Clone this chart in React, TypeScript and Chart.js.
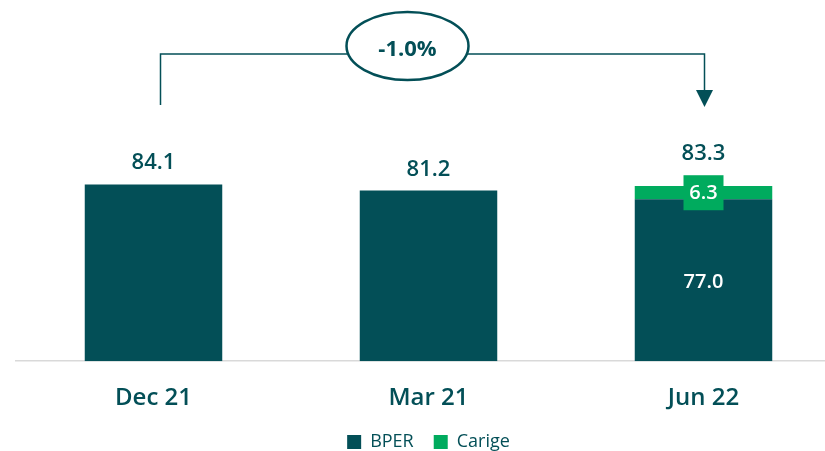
import { useEffect, useRef } from "react";
import { Chart, registerables } from "chart.js";

Chart.register(...registerables);

const categories = ["Dec 21", "Mar 21", "Jun 22"];
const bperValues = [84.1, 81.2, 77.0];
const carigeValues: (number | null)[] = [null, null, 6.3];
const totalValues = [84.1, 81.2, 83.3];
const changeLabel = "-1.0%";
const seriesNames = ["BPER", "Carige"];

const DARK = "#034F57";
const GREEN = "#00AB5E";
const FONT = "'Open Sans', 'Noto Sans', sans-serif";

const labelsPlugin = {
  id: "valueLabels",
  afterDatasetsDraw(chart: any) {
    const ctx = chart.ctx as CanvasRenderingContext2D;
    const m0 = chart.getDatasetMeta(0);
    const m1 = chart.getDatasetMeta(1);
    ctx.save();
    ctx.textAlign = "center";
    categories.forEach((_, i) => {
      const b0 = m0.data[i];
      let top = b0.y;
      const cv = carigeValues[i];
      if (cv != null) {
        const b1 = m1.data[i];
        const gy = (b1.y + b1.base) / 2;
        const bw = 40;
        const bh = 35;
        ctx.fillStyle = GREEN;
        ctx.fillRect(b1.x - bw / 2, gy - bh / 2, bw, bh);
        ctx.fillStyle = "#ffffff";
        ctx.font = `600 20px ${FONT}`;
        ctx.textBaseline = "middle";
        ctx.fillText(cv.toFixed(1), b1.x, gy + 1);
        ctx.fillText(bperValues[i].toFixed(1), b0.x, (b0.y + b0.base) / 2 + 2);
        top = Math.min(b1.y, gy - bh / 2);
      }
      ctx.fillStyle = DARK;
      ctx.font = `600 22px ${FONT}`;
      ctx.textBaseline = "alphabetic";
      ctx.fillText(totalValues[i].toFixed(1), b0.x, top - 15);
    });
    ctx.restore();
  },
  afterDraw(chart: any) {
    const ctx = chart.ctx as CanvasRenderingContext2D;
    const m0 = chart.getDatasetMeta(0);
    const x0 = m0.data[0].x + 7;
    const x2 = m0.data[2].x + 1;
    const yLine = 54;
    ctx.save();
    ctx.strokeStyle = DARK;
    ctx.fillStyle = DARK;
    ctx.lineWidth = 1.5;
    ctx.beginPath();
    ctx.moveTo(x0, 105);
    ctx.lineTo(x0, yLine);
    ctx.lineTo(x2, yLine);
    ctx.lineTo(x2, 92);
    ctx.stroke();
    ctx.beginPath();
    ctx.moveTo(x2 - 8.5, 90);
    ctx.lineTo(x2 + 8.5, 90);
    ctx.lineTo(x2, 107);
    ctx.closePath();
    ctx.fill();
    const cx = m0.data[1].x - 21;
    const cy = 46;
    ctx.beginPath();
    ctx.ellipse(cx, cy, 61, 34, 0, 0, Math.PI * 2);
    ctx.fillStyle = "#ffffff";
    ctx.fill();
    ctx.lineWidth = 2.5;
    ctx.stroke();
    ctx.fillStyle = DARK;
    ctx.font = `700 22px ${FONT}`;
    ctx.textAlign = "center";
    ctx.textBaseline = "middle";
    ctx.fillText(changeLabel, cx, 50);
    ctx.restore();
  },
};

export default function App() {
  const ref = useRef<HTMLCanvasElement>(null);
  useEffect(() => {
    const chart = new Chart(ref.current as HTMLCanvasElement, {
      type: "bar",
      data: {
        labels: categories,
        datasets: [
          {
            label: seriesNames[0],
            data: bperValues,
            backgroundColor: DARK,
            borderWidth: 0,
            categoryPercentage: 1,
            barPercentage: 0.5,
          },
          {
            label: seriesNames[1],
            data: carigeValues as any,
            backgroundColor: GREEN,
            borderWidth: 0,
            categoryPercentage: 1,
            barPercentage: 0.5,
          },
        ],
      },
      options: {
        responsive: false,
        animation: false,
        devicePixelRatio: 1,
        layout: { padding: { top: 151, left: 16, right: 19, bottom: -10 } },
        scales: {
          x: {
            stacked: true,
            grid: { display: false, drawTicks: false },
            border: { display: true, color: "#d9d9d9", width: 1.5 },
            ticks: {
              color: DARK,
              padding: 23,
              font: { family: FONT, size: 24, weight: "600" as any },
            },
            afterFit: (scale: any) => {
              scale.height -= 23;
            },
          },
          y: {
            stacked: true,
            display: false,
            min: 0,
            max: 100,
          },
        },
        plugins: {
          tooltip: { enabled: false },
          legend: {
            position: "bottom",
            labels: {
              color: DARK,
              boxWidth: 14,
              boxHeight: 14,
              padding: 20,
              font: { family: FONT, size: 18 },
            },
          },
        },
      },
      plugins: [labelsPlugin],
    });
    return () => chart.destroy();
  }, []);
  return (
    <div
      style={{
        position: "fixed",
        left: 0,
        top: 0,
        width: 825,
        height: 451,
        overflow: "hidden",
        background: "#ffffff",
      }}
    >
      <canvas ref={ref} width={860} height={451} style={{ display: "block", width: 860, height: 451 }} />
    </div>
  );
}
